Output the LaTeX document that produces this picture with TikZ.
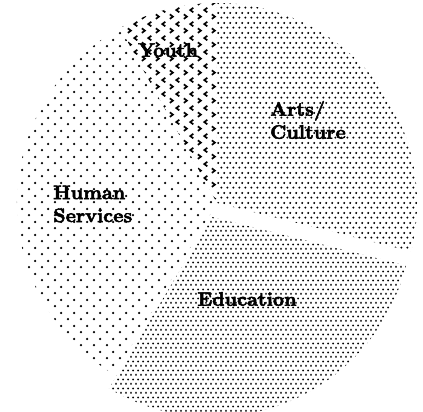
\documentclass[tikz,border=0pt]{standalone}
\usepackage{fontspec}
\usetikzlibrary{patterns}
\newfontfamily\lblfont{lmroman10-bold}[Extension=.otf,FakeBold=2.5]
% sparse staggered dots (Human Services)
\pgfdeclarepatternformonly{humandots}{\pgfpointorigin}{\pgfqpoint{12.7pt}{12.6pt}}{\pgfqpoint{12.7pt}{12.6pt}}{%
  \pgfpathcircle{\pgfqpoint{3pt}{3pt}}{1.3pt}%
  \pgfpathcircle{\pgfqpoint{9.35pt}{9.3pt}}{1.3pt}%
  \pgfusepath{fill}}
% medium staggered dots (Arts/Culture)
\pgfdeclarepatternformonly{artsdots}{\pgfpointorigin}{\pgfqpoint{6.3pt}{9.6pt}}{\pgfqpoint{6.3pt}{9.6pt}}{%
  \pgfpathcircle{\pgfqpoint{1.5pt}{1.5pt}}{1.2pt}%
  \pgfpathcircle{\pgfqpoint{4.65pt}{6.3pt}}{1.2pt}%
  \pgfusepath{fill}}
% dense staggered dots (Education)
\pgfdeclarepatternformonly{edudots}{\pgfpointorigin}{\pgfqpoint{5pt}{8.8pt}}{\pgfqpoint{5pt}{8.8pt}}{%
  \pgfpathcircle{\pgfqpoint{1.2pt}{1.2pt}}{1.15pt}%
  \pgfpathcircle{\pgfqpoint{3.7pt}{5.6pt}}{1.15pt}%
  \pgfusepath{fill}}
% chevrons (Youth)
\pgfdeclarepatternformonly{youthchev}{\pgfpointorigin}{\pgfqpoint{14pt}{14pt}}{\pgfqpoint{14pt}{14pt}}{%
  \pgfsetlinewidth{1.8pt}%
  \pgfpathmoveto{\pgfqpoint{2pt}{6pt}}\pgfpathlineto{\pgfqpoint{5.2pt}{3.6pt}}\pgfpathlineto{\pgfqpoint{2pt}{1.2pt}}%
  \pgfpathmoveto{\pgfqpoint{12pt}{13pt}}\pgfpathlineto{\pgfqpoint{8.8pt}{10.6pt}}\pgfpathlineto{\pgfqpoint{12pt}{8.2pt}}%
  \pgfusepath{stroke}}
\tikzset{
  slicelabel/.style={inner sep=0pt, font=\lblfont\fontsize{19.5}{23}\selectfont, align=left, text=black}
}
\begin{document}
\begin{tikzpicture}[x=1pt,y=1pt]
\useasboundingbox (-217,-209) rectangle (206,203);
\coordinate (c) at (0,0);
\coordinate (ce) at (-5,-14);
% Arts/Culture
\fill[pattern=artsdots] (c) -- (-14:200) arc[start angle=-14,end angle=90,radius=200] -- cycle;
% Youth
\fill[pattern=youthchev] (c) -- (90:200) arc[start angle=90,end angle=119,radius=200] -- cycle;
% Human Services
\fill[pattern=humandots] (c) -- (119:200) arc[start angle=119,end angle=239,radius=200] -- cycle;
% Education (exploded)
\fill[pattern=edudots] (ce) -- ++(239:200) arc[start angle=239,end angle=346,radius=200] -- cycle;
% labels
\node[slicelabel] (youth) at (-49,153) {Youth};
\node[slicelabel, anchor=west] (arts) at (53,83) {Arts/\\Culture};
\node[slicelabel, anchor=west] (human) at (-164,-1) {Human\\Services};
\node[slicelabel] (edu) at (30,-96) {Education};
\end{tikzpicture}
\end{document}
